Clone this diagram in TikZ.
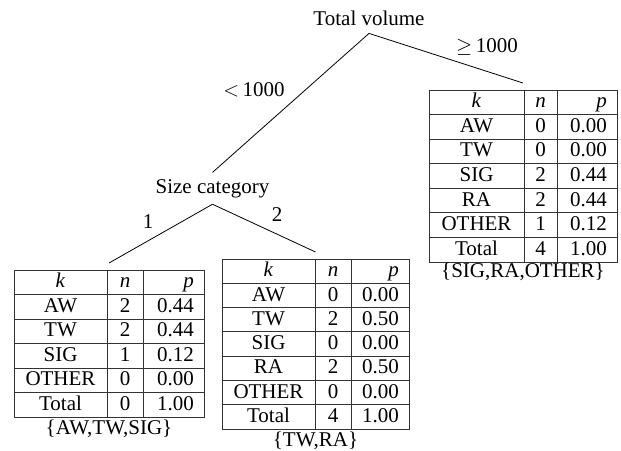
\documentclass[tikz,border=0pt]{standalone}
\usepackage{fontspec}
\setmainfont{Liberation Serif}
\tikzset{
  conn/.style={draw=black, line width=0.8pt},
  cell/.style={inner sep=0pt, font=\fontsize{21}{25}\selectfont},
  lab/.style={inner sep=1pt, font=\fontsize{21}{25}\selectfont},
  tabframe/.style={draw=black!80, line width=0.8pt, inner sep=0pt, outer ysep=7pt},
  grid/.style={draw=black!80, line width=0.8pt}
}
% #1 name, #2..#5 column x, #6 top y, #7 row height, #8 rows
\newcommand{\drawtab}[8]{%
  \foreach \a/\b/\c [count=\i from 0] in {#8} {%
    \pgfmathsetmacro\yb{#6+\i*#7+17.8}%
    \node[cell,anchor=base] (#1-\i-k) at ({(#2+#3)/2},\yb) {\a};
    \node[cell,anchor=base] (#1-\i-n) at ({(#3+#4)/2},\yb) {\b};
    \node[cell,anchor=base east] (#1-\i-p) at ({#5-10},\yb) {\c};
  }%
}
\begin{document}
\begin{tikzpicture}[x=1pt,y=-1pt]
\useasboundingbox[fill=white] (0,0) rectangle (621,450);

% headings
\node[lab,anchor=base,inner xsep=2pt,inner ysep=8pt] (tv) at (369,25) {Total volume};
\node[lab,anchor=base,inner xsep=2pt,inner ysep=6.5pt] (sc) at (212.5,193) {Size category};

% tables: frames
\node[tabframe,minimum width=190pt,minimum height=147pt] (L) at (109,343.5) {};
\node[tabframe,minimum width=187pt,minimum height=170pt] (M) at (315.5,344) {};
\node[tabframe,minimum width=188pt,minimum height=172pt] (R) at (523,176) {};

% grid lines
\foreach \i in {1,...,5} \draw[grid] (14,{270+\i*24.5}) -- (204,{270+\i*24.5});
\draw[grid] (107,270) -- (107,417);
\draw[grid] (143,270) -- (143,417);
\foreach \i in {1,...,6} \draw[grid] (222,{259+\i*24.2857}) -- (409,{259+\i*24.2857});
\draw[grid] (315,259) -- (315,429);
\draw[grid] (351,259) -- (351,429);
\foreach \i in {1,...,6} \draw[grid] (429,{90+\i*24.5714}) -- (617,{90+\i*24.5714});
\draw[grid] (524,90) -- (524,262);
\draw[grid] (557,90) -- (557,262);

% cells
\drawtab{L}{14}{107}{143}{204}{270}{24.5}{{\textit{k}}/{\textit{n}}/{\textit{p}},AW/2/0.44,TW/2/0.44,SIG/1/0.12,OTHER/0/0.00,Total/0/1.00}
\drawtab{M}{222}{315}{351}{409}{259}{24.2857}{{\textit{k}}/{\textit{n}}/{\textit{p}},AW/0/0.00,TW/2/0.50,SIG/0/0.00,RA/2/0.50,OTHER/0/0.00,Total/4/1.00}
\drawtab{R}{429}{524}{557}{617}{90}{24.5714}{{\textit{k}}/{\textit{n}}/{\textit{p}},AW/0/0.00,TW/0/0.00,SIG/2/0.44,RA/2/0.44,OTHER/1/0.12,Total/4/1.00}

% labels under tables
\node[lab,anchor=base] (L-lab) at (109,434) {\{AW,TW,SIG\}};
\node[lab,anchor=base] (M-lab) at (315.5,446) {\{TW,RA\}};
\node[lab,anchor=base] (R-lab) at (523,277) {\{SIG,RA,OTHER\}};

% connectors
\draw[conn] (tv.south) -- (sc.north);
\draw[conn] (tv.south) -- (R.north);
\draw[conn] (sc.south) -- (L.north);
\draw[conn] (sc.south) -- (M.north);

% edge labels
\node[lab] (e-ge) at (487,47) {$\geq$\,1000};
\node[lab] (e-lt) at (254,90) {$<$\,1000};
\node[lab] (e-one) at (148,222) {1};
\node[lab] (e-two) at (277,215) {2};
\end{tikzpicture}
\end{document}
